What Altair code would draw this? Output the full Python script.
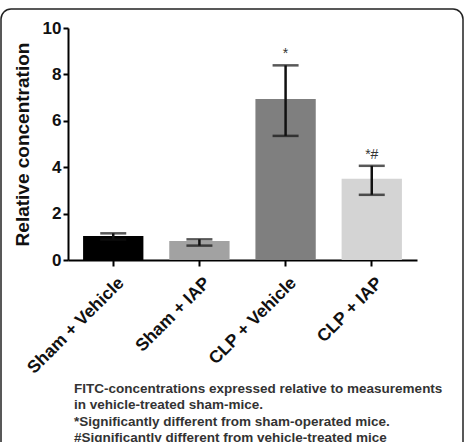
import altair as alt
import pandas as pd

groups = ["Sham + Vehicle", "Sham + IAP", "CLP + Vehicle", "CLP + IAP"]
means = [1.03, 0.82, 6.94, 3.50]
err_low = [0.88, 0.62, 5.35, 2.81]
err_high = [1.15, 0.89, 8.39, 4.06]
marks = ["", "", "*", "*#"]
colors = ["#000000", "#a2a2a2", "#7f7f7f", "#d4d4d4"]
y_ticks = [0, 2, 4, 6, 8, 10]
caption = [
    "FITC-concentrations expressed relative to measurements",
    "in vehicle-treated sham-mice.",
    "*Significantly different from sham-operated mice.",
    "#Significantly different from vehicle-treated mice",
]

df = pd.DataFrame({"group": groups, "mean": means, "lo": err_low,
                   "hi": err_high, "mark": marks})

FONT = "Liberation Sans"

x = alt.X("group:N", sort=groups, title=None,
          scale=alt.Scale(paddingInner=0.3, paddingOuter=0.175),
          axis=alt.Axis(labelAngle=-45, labelFontSize=17.5, labelFontWeight="bold",
                        labelFont=FONT, labelColor="#111", labelAlign="right",
                        labelBaseline="middle", labelPadding=14, labelOffset=8,
                        domainColor="#000", domainWidth=2, tickColor="#000",
                        tickWidth=2, tickSize=6))

base = alt.Chart(df)

bars = base.mark_bar().encode(
    x=x,
    y=alt.Y("mean:Q", title="Relative concentration",
            scale=alt.Scale(domain=[0, 10], nice=False),
            axis=alt.Axis(values=y_ticks, labelFontSize=17, labelFontWeight="bold",
                          labelFont=FONT, labelColor="#111", grid=False,
                          domainColor="#000", domainWidth=2, tickColor="#000",
                          tickWidth=2, tickSize=5, labelPadding=2,
                          titleFontSize=19, titleFont=FONT, titleFontWeight="bold",
                          titleColor="#111", titlePadding=10)),
    color=alt.Color("group:N", sort=groups,
                    scale=alt.Scale(domain=groups, range=colors), legend=None),
)

rules = base.mark_rule(color="#111", strokeWidth=2.5).encode(
    x=alt.X("group:N", sort=groups), y="lo:Q", y2="hi:Q")
cap_hi = base.mark_tick(color="#111", thickness=2.5, size=26).encode(
    x=alt.X("group:N", sort=groups), y="hi:Q")
cap_lo = base.mark_tick(color="#111", thickness=2.5, size=26).encode(
    x=alt.X("group:N", sort=groups), y="lo:Q")

labels = base.mark_text(font=FONT, fontSize=14, color="#333", baseline="bottom",
                        dy=-4).encode(
    x=alt.X("group:N", sort=groups), y="hi:Q", text="mark:N")

cap_text = alt.Chart(pd.DataFrame({"t": [0]})).mark_text(
    font=FONT, fontSize=13.5, fontWeight="bold", color="#333", align="left",
    baseline="middle", lineHeight=16.4).encode(
    x=alt.value(6), y=alt.value(361), text=alt.value(caption))

border = alt.Chart(pd.DataFrame({"t": [0]})).mark_rect(
    fill=None, stroke="#222", strokeWidth=1.5, cornerRadius=10).encode(
    x=alt.value(-67), x2=alt.value(395), y=alt.value(-19), y2=alt.value(460))

chart = alt.layer(border, bars, rules, cap_hi, cap_lo, labels, cap_text).properties(
    width=349, height=232,
    autosize=alt.AutoSizeParams(type="none"),
    padding={"left": 68, "top": 28, "right": 48, "bottom": 182},
    background="white",
).configure_view(stroke=None)

chart.save("out.html", embed_options={"renderer": "svg", "actions": False})
